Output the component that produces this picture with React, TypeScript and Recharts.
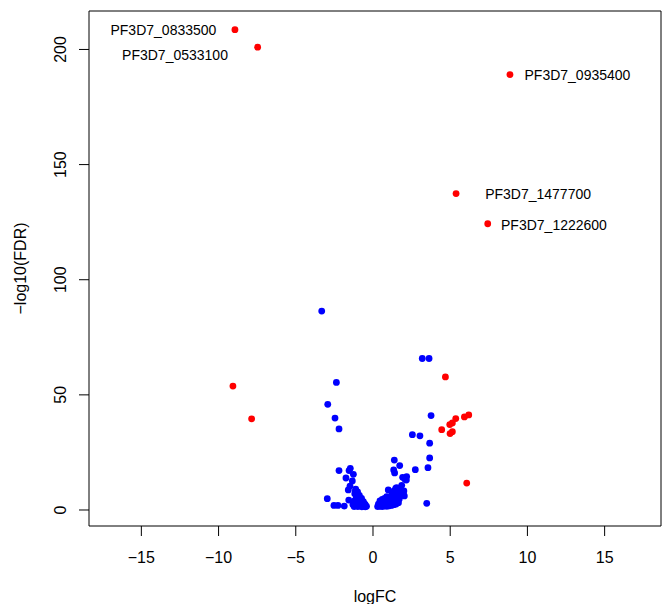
import React from 'react';
import { ScatterChart, Scatter, XAxis, YAxis, ReferenceArea, Label } from 'recharts';

const FONT = '"Liberation Sans", Arial, Helvetica, sans-serif';

const X_DOMAIN: [number, number] = [-18.39, 18.65];
const Y_DOMAIN: [number, number] = [-6.95, 216.7];
const xTicks = [-15, -10, -5, 0, 5, 10, 15];
const yTicks = [0, 50, 100, 150, 200];

// significant genes, moderate fold change (blue)
const bluePoints: [number, number][] = [
  [-3.32, 86.4], [-2.37, 55.4], [-2.93, 45.9], [-2.46, 39.9], [-2.2, 35.2],
  [3.19, 65.8], [3.63, 65.8], [3.76, 41.0], [2.55, 32.7], [3.04, 32.2], [3.67, 29.0],
  [3.67, 22.6], [3.56, 18.4], [2.74, 17.5], [3.48, 2.9],
  [-2.2, 17.1], [-1.47, 18.1], [-1.55, 17.1], [-1.27, 15.5], [-1.75, 13.9], [-1.34, 12.6],
  [-1.49, 10.4], [-1.6, 8.7], [-1.57, 4.3], [-2.96, 4.9], [-2.53, 2.0], [-2.27, 2.0], [-1.86, 1.7],
  [1.38, 21.7], [1.73, 19.3], [1.34, 17.4], [1.4, 16.1], [1.92, 14.2], [2.07, 13.3], [2.16, 13.0],
  [1.86, 10.7], [2.0, 8.3], [2.03, 6.1], [1.47, 9.4], [1.21, 6.5], [0.99, 8.7], [0.89, 5.8],
  [1.53, 9.7], [1.36, 8.3], [1.96, 6.5], [2.18, 14.5],
];

// dense cluster left of zero
const leftClusterPoints: [number, number][] = [
  [-1.12, 9.0], [-1.0, 7.9], [-1.18, 7.1], [-0.88, 6.3], [-1.08, 5.4], [-0.74, 5.0],
  [-0.95, 4.2], [-1.2, 4.0], [-0.62, 3.6], [-1.25, 3.0], [-0.85, 2.8], [-1.05, 2.5],
  [-0.5, 2.3], [-0.7, 2.1], [-1.15, 2.0], [-0.9, 1.9], [-0.6, 1.8], [-1.3, 2.4],
  [-0.8, 3.3], [-1.02, 6.5], [-0.93, 5.7], [-1.14, 8.2], [-0.78, 4.4], [-0.55, 2.6],
  [-0.42, 1.6], [-0.66, 2.9], [-1.22, 1.5], [-0.98, 1.5], [-0.72, 1.4], [-0.5, 1.4],
];

// dense cluster right of zero
const rightClusterPoints: [number, number][] = [
  [0.3, 1.5], [0.45, 1.6], [0.6, 1.5], [0.75, 1.7], [0.9, 1.6], [1.05, 1.8], [1.2, 2.0],
  [1.35, 2.3], [1.5, 2.6], [1.65, 3.2], [0.35, 2.5], [0.5, 3.0], [0.65, 2.7], [0.8, 3.2],
  [0.95, 3.5], [1.1, 3.0], [1.25, 3.8], [1.4, 4.0], [1.55, 4.4], [1.7, 4.8], [0.45, 4.0],
  [0.6, 4.6], [0.75, 5.0], [0.9, 4.4], [1.05, 5.4], [1.2, 5.0], [1.35, 6.0], [1.5, 5.8],
  [1.65, 6.6], [1.8, 7.0], [1.6, 7.5], [1.75, 8.8], [1.3, 7.2], [0.4, 2.0], [0.55, 2.2],
  [0.7, 2.3], [0.85, 2.4], [1.0, 2.6], [1.15, 2.8], [1.3, 3.1], [1.45, 3.4],
];

// strongly regulated genes (red)
const redPoints: [number, number][] = [
  [-8.94, 208.6], [-7.47, 201.0], [8.87, 189.1], [5.38, 137.4], [7.43, 124.3],
  [-9.07, 53.8], [-7.86, 39.6], [4.69, 57.8], [4.45, 34.9], [4.97, 37.1], [5.14, 37.8],
  [5.36, 39.7], [4.99, 33.2], [5.14, 34.0], [5.92, 40.4], [6.2, 41.3], [6.07, 11.7],
];

// gene labels and where their text is centred (data coordinates)
const labelNames = ['PF3D7_0833500', 'PF3D7_0533100', 'PF3D7_0935400', 'PF3D7_1477700', 'PF3D7_1222600'];
const labelX = [-13.57, -12.82, 13.24, 10.69, 11.72];
const labelY = [208.3, 197.5, 189.1, 137.3, 123.6];

const toObj = (arr: [number, number][]) => arr.map(([x, y]) => ({ x, y }));
const blueData = toObj([...bluePoints, ...leftClusterPoints, ...rightClusterPoints]);
const redData = toObj(redPoints);
const labelData = labelNames.map((name, i) => ({ x: labelX[i], y: labelY[i], name }));

const fmt = (v: number) => (v < 0 ? '\u2212' + Math.abs(v) : String(v));

const XTick = (props: any) => {
  const { x, y, payload } = props;
  return (
    <text x={x} y={y + 25} textAnchor="middle" fontSize={16} fontFamily={FONT} fill="#000">
      {fmt(payload.value)}
    </text>
  );
};

const YTick = (props: any) => {
  const { x, y, payload } = props;
  const bx = x - 11;
  return (
    <text x={bx} y={y} transform={`rotate(-90 ${bx} ${y})`} textAnchor="middle" fontSize={16} fontFamily={FONT} fill="#000">
      {fmt(payload.value)}
    </text>
  );
};

const XTitle = (props: any) => {
  const vb = props.viewBox || { x: 89, y: 526, width: 572, height: 78 };
  return (
    <text x={vb.x + vb.width / 2} y={vb.y + 76} textAnchor="middle" fontSize={16} fontFamily={FONT} fill="#000">
      logFC
    </text>
  );
};

const YTitle = (props: any) => {
  const vb = props.viewBox || { x: 0, y: 11, width: 89, height: 515 };
  const cx = 26;
  const cy = vb.y + vb.height / 2;
  return (
    <text x={cx} y={cy} transform={`rotate(-90 ${cx} ${cy})`} textAnchor="middle" fontSize={16} fontFamily={FONT} fill="#000">
      {'\u2212log10(FDR)'}
    </text>
  );
};

const Dot = (color: string) => (props: any) => {
  const { cx, cy } = props;
  if (cx == null || cy == null) return <g />;
  return <circle cx={cx} cy={cy} r={3.4} fill={color} />;
};

const GeneLabel = (props: any) => {
  const { cx, cy } = props;
  const name = props.payload?.name ?? props.name;
  if (cx == null || cy == null) return <g />;
  return (
    <text x={cx} y={cy + 5} textAnchor="middle" fontSize={14} fontFamily={FONT} fill="#000">
      {name}
    </text>
  );
};

export default function App() {
  return (
    <div style={{ position: 'absolute', left: 0, top: 0, background: '#fff' }}>
      <ScatterChart width={669} height={604} margin={{ top: 11, right: 8, left: 0, bottom: 0 }}>
        <XAxis
          type="number"
          dataKey="x"
          domain={X_DOMAIN}
          ticks={xTicks}
          allowDataOverflow
          axisLine={false}
          tickLine={{ stroke: '#000' }}
          tickSize={10}
          tick={<XTick />}
          height={78}
          interval={0}
        >
          <Label content={<XTitle />} />
        </XAxis>
        <YAxis
          type="number"
          dataKey="y"
          domain={Y_DOMAIN}
          ticks={yTicks}
          allowDataOverflow
          axisLine={false}
          tickLine={{ stroke: '#000' }}
          tickSize={10}
          tick={<YTick />}
          width={89}
          interval={0}
        >
          <Label content={<YTitle />} />
        </YAxis>
        <Scatter data={blueData} shape={Dot('#0000FF')} isAnimationActive={false} />
        <Scatter data={redData} shape={Dot('#FF0000')} isAnimationActive={false} />
        <Scatter data={labelData} shape={<GeneLabel />} isAnimationActive={false} />
        <ReferenceArea
          x1={X_DOMAIN[0]}
          x2={X_DOMAIN[1]}
          y1={Y_DOMAIN[0]}
          y2={Y_DOMAIN[1]}
          fill="none"
          stroke="#000"
          strokeWidth={1}
          ifOverflow="visible"
        />
      </ScatterChart>
    </div>
  );
}
